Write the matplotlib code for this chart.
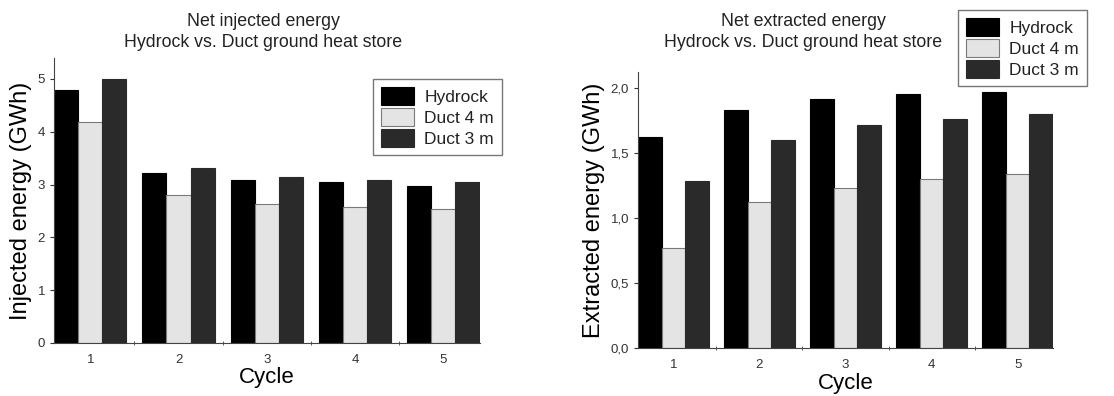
import matplotlib.pyplot as plt
import numpy as np

plt.rcParams['font.family'] = ['Liberation Sans', 'DejaVu Sans']

cycles = [1, 2, 3, 4, 5]
series = ["Hydrock", "Duct 4 m", "Duct 3 m"]

inj_hydrock = [4.79, 3.22, 3.09, 3.04, 2.98]
inj_duct4 = [4.18, 2.81, 2.63, 2.58, 2.53]
inj_duct3 = [5.00, 3.31, 3.15, 3.09, 3.04]

ext_hydrock = [1.62, 1.83, 1.91, 1.95, 1.97]
ext_duct4 = [0.77, 1.12, 1.23, 1.30, 1.34]
ext_duct3 = [1.285, 1.60, 1.71, 1.76, 1.80]

colors = ["#000000", "#e4e4e4", "#2a2a2a"]
edges = ["#000000", "#7a7a7a", "#2a2a2a"]

fig = plt.figure(figsize=(11.14, 3.96), dpi=100)
ax1 = fig.add_axes([0.0485, 0.134, 0.382, 0.72])
ax2 = fig.add_axes([0.5727, 0.121, 0.3725, 0.697])

x = np.array(cycles)
w = 0.273


def draw(ax, data, ylim, yticks, yticklabels, ylabel, title, tx):
    for i, (vals, name) in enumerate(zip(data, series)):
        ax.bar(x + (i - 1) * w, vals, w, color=colors[i], edgecolor=edges[i],
               linewidth=0.8, label=name)
    ax.set_xlim(0.59, 5.41)
    ax.set_ylim(*ylim)
    ax.set_yticks(yticks)
    ax.set_yticklabels(yticklabels)
    ax.set_xticks(cycles)
    ax.set_xticks([1.5, 2.5, 3.5, 4.5], minor=True)
    ax.tick_params(axis='x', which='major', length=0, pad=8, labelsize=9.5,
                   colors='#333333')
    ax.tick_params(axis='x', which='minor', length=3, direction='inout',
                   color='#444444')
    ax.tick_params(axis='y', length=3, direction='out', labelsize=9.5,
                   colors='#333333')
    for s in ['top', 'right']:
        ax.spines[s].set_visible(False)
    for s in ['left', 'bottom']:
        ax.spines[s].set_color('#444444')
    ax.set_xlabel("Cycle", fontsize=16, labelpad=1)
    ax.set_ylabel(ylabel, fontsize=17, labelpad=4)
    fig.text(tx / 1114, 1 - 32 / 396, title, fontsize=12.8, color='#222222',
             ha='center', va='center', linespacing=1.25)


draw(ax1, [inj_hydrock, inj_duct4, inj_duct3], (0, 5.4),
     [0, 1, 2, 3, 4, 5], ["0", "1", "2", "3", "4", "5"],
     "Injected energy (GWh)",
     "Net injected energy\nHydrock vs. Duct ground heat store", 263)
draw(ax2, [ext_hydrock, ext_duct4, ext_duct3], (0, 2.12),
     [0, 0.5, 1.0, 1.5, 2.0], ["0,0", "0,5", "1,0", "1,5", "2,0"],
     "Extracted energy (GWh)",
     "Net extracted energy\nHydrock vs. Duct ground heat store", 803)

for ax, anchor in [(ax1, (373, 79)), (ax2, (958, 10))]:
    leg = ax.legend(loc='upper left',
                    bbox_to_anchor=(anchor[0] / 1114, 1 - anchor[1] / 396),
                    bbox_transform=fig.transFigure, fontsize=12.5,
                    frameon=True, fancybox=False, borderpad=0.45,
                    handlelength=1.9, handleheight=1.2, labelspacing=0.2,
                    handletextpad=0.6, borderaxespad=0)
    leg.get_frame().set_edgecolor('#555555')
    leg.get_frame().set_linewidth(1.0)
    for t in leg.get_texts():
        t.set_color('#222222')

fig.savefig("out.png", dpi=100)
